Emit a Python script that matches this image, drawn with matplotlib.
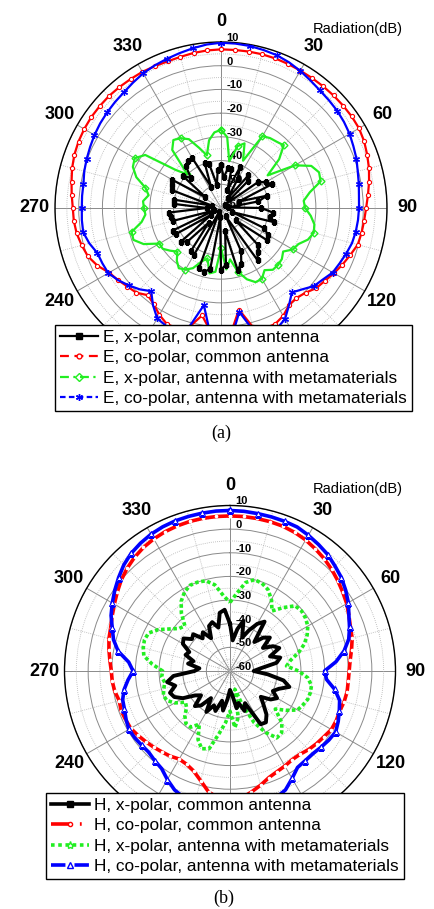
import numpy as np
import matplotlib
matplotlib.use('Agg')
import matplotlib.pyplot as plt
from matplotlib.lines import Line2D
from matplotlib.transforms import offset_copy

plt.rcParams['font.family'] = ['Liberation Sans', 'DejaVu Sans']

# ---------------- data (angle in degrees, values in dB) ----------------
angles_deg = np.arange(0, 360, 5)

# (a) E-plane
e_x_common = [-42, -47, -43, -43, -52, -41, -46, -55, -42, -44, -58, -41,
              -38, -36.5, -52, -40, -44, -57, -43, -38, -39, -37, -55, -40,
              -37, -36.5, -52, -38, -36, -33, -56, -40, -35, -33, -50, -36,
              -34, -56, -34, -32, -33, -58, -37, -38, -52, -40, -38, -55,
              -38, -37.5, -57, -39, -38.5, -38, -54, -40, -40, -56, -38, -37,
              -36, -52, -39, -42, -37, -36, -35.5, -50, -40, -41, -50, -44]
e_co_common = [6.9, 6.9, 7.0, 7.1, 7.1, 7.0, 6.9, 6.9, 7.0, 7.1, 7.2, 7.3,
               7.2, 6.6, 5.6, 4.6, 3.4, 2.2, 1.2, 0.6, 0.2, -0.3, -2.0, -3.5,
               -5.0, -6.5, -7.5, -9.5, -10.5, -10.0, -7.5, -6, -6, -8, -16.5, -8,
               -5, -8, -14, -8, -6, -6, -8, -10.5, -12, -9.5, -8.5, -7,
               -5.5, -2.5, -0.3, 0.8, 1.8, 2.3, 2.5, 3.2, 4, 5, 5.8, 6.3,
               6.6, 6.8, 6.8, 6.8, 6.6, 6.4, 6.3, 6.0, 5.8, 6.0, 6.4, 6.7]
e_x_meta = [-27, -30, -40, -33, -31, -38, -25, -24, -23.5, -22.6, -28, -36,
            -24, -18, -16, -16.5, -22, -25, -24.5, -22, -20, -19.5, -21, -24,
            -25, -28, -26.5, -26, -26, -28, -25.5, -25.5, -28, -32, -38, -34,
            -43, -33, -32, -38, -36, -32, -30, -29, -31, -34, -32, -30,
            -30, -24, -20.7, -21, -26, -28, -27.5, -27, -29, -27, -22, -19,
            -18, -21, -35, -40, -28, -25, -26, -28, -33, -37, -31, -28]
e_co_meta = [9.7, 9.6, 9.4, 9.0, 8.6, 7.8, 6.8, 5.7, 4.8, 4.3, 3.9, 3.3,
             2.6, 1.6, 0.8, -0.3, -1.0, -1.6, -1.8, -2.0, -2.3, -2.8, -3.8, -4.8,
             -5.6, -7.5, -8.8, -11.5, -13.5, -10, -6, -4, -4, -6, -15.5, -6,
             -4, -7, -18.4, -8, -5, -5.2, -6.2, -10, -14.2, -11.5, -9.2, -7,
             -5.1, -4.8, -4.5, -2.5, -1.0, -1.1, -1.3, -1.2, -1.1, -0.3, 0.3, 0.9,
             1.6, 2.2, 2.7, 3.2, 3.7, 4.6, 5.6, 6.3, 6.9, 7.6, 8.4, 9.2]

# (b) H-plane
h_x_common = [-40, -47, -42, -38, -45, -41, -37, -34.5, -44, -40, -38, -43,
              -39, -37, -42, -38, -40, -47, -50, -44, -37, -34, -38, -40,
              -37, -39, -43, -40, -36, -33.5, -34, -45, -42, -46, -44, -50,
              -52, -48, -43, -47, -42, -44, -40, -46, -41, -39, -44, -42,
              -37, -34, -33, -36, -33, -36, -45, -47, -42, -44, -40, -41,
              -37, -36, -39, -38, -42, -40, -44, -39, -38, -41, -35, -34]
h_co_common = [5.6, 5.6, 5.5, 5.4, 5.2, 4.7, 4.0, 3.0, 2.0, 0.8, -0.5, -1.8,
               -3, -4.5, -5.8, -6.5, -7.8, -9, -9.6, -9.8, -9.7, -10, -10.6, -10.4,
               -10.5, -11.5, -12.2, -13, -14, -14.2, -13.6, -13, -12, -10, -8, -6,
               -5, -6, -8, -12, -15, -16.5, -17, -16, -15.3, -14.4, -13.5, -12.5,
               -11.5, -11.3, -11, -11.5, -10.5, -10, -9.8, -9, -8, -7, -6.3, -5,
               -3.5, -1.8, 0, 1.5, 2.8, 3.8, 4.5, 5.0, 5.3, 5.5, 5.6, 5.6]
h_x_meta = [-31, -27, -22, -20, -20.5, -22, -25, -29, -25, -21, -20.5, -21,
            -22, -24, -26.5, -30, -34, -36, -31, -27, -25, -24.8, -25, -26,
            -27, -31, -35, -29, -26, -25.5, -30, -36, -45, -52, -40, -36,
            -43, -38, -33, -26, -25, -28, -34, -31, -31, -33, -36, -37,
            -33, -30.5, -30, -31, -32, -31, -31.5, -27, -23, -22, -21.5, -22,
            -25, -29, -32, -33, -28, -24, -21.5, -20, -20, -20.5, -23, -28]
h_co_meta = [7.9, 7.8, 7.6, 7.5, 7.4, 7.2, 6.3, 5.3, 4.3, 2.8, 1.5, -0.3,
             -2.2, -4.5, -6.2, -8, -11, -15, -20, -19, -15, -12, -10.8, -9.5,
             -8.4, -9, -9.8, -10.5, -10.5, -10.2, -7.5, -4.5, -3, -2, -1.5, -1,
             -1, -1, -1.5, -2, -3, -4.5, -7, -9.6, -10.5, -11.4, -11.2, -10.8,
             -10.6, -11.5, -12.5, -13, -14.5, -16.7, -19, -17, -12, -9, -7, -4.5,
             -2.5, -0.5, 1.5, 3.5, 5, 6, 6.8, 7.3, 7.6, 7.7, 7.8, 7.9]

# 150, 180 and 210 sit behind the legend in the reference
theta_labels = ['0', '30', '60', '90', '120', '', '', '', '240', '270', '300', '330']
r_labels = [10, 0, -10, -20, -30, -40, -50, -60]

labels_a = ['E, x-polar, common antenna', 'E, co-polar, common antenna',
            'E, x-polar, antenna with metamaterials', 'E, co-polar, antenna with metamaterials']
labels_b = ['H, x-polar, common antenna', 'H, co-polar, common antenna',
            'H, x-polar, antenna with metamaterials', 'H, co-polar, antenna with metamaterials']

GREEN = '#22ee22'
W, H = 435, 909

fig = plt.figure(figsize=(W / 100, H / 100), dpi=100)


def closed(vals):
    th = np.deg2rad(np.append(angles_deg, 360))
    return th, np.append(vals, vals[0])


def setup(ax):
    ax.set_theta_zero_location('N')
    ax.set_theta_direction(-1)
    ax.set_ylim(-60, 10)
    ax.set_xticks(np.deg2rad(np.arange(0, 360, 30)))
    ax.set_xticks(np.deg2rad(np.arange(15, 360, 30)), minor=True)
    ax.set_xticklabels(theta_labels, fontsize=13, fontweight='bold')
    ax.set_yticks(r_labels)
    ax.set_yticks(np.arange(-55, 10, 10), minor=True)
    ax.set_yticklabels([])
    ax.tick_params(axis='y', length=0)
    ax.tick_params(axis='x', which='major', direction='inout', length=7, width=0.9,
                   pad=4, colors='black')
    ax.tick_params(axis='x', which='minor', direction='in', length=3.5, width=0.7)
    ax.grid(which='major', color='#8a8a8a', lw=0.7, ls='-')
    ax.grid(which='minor', color='#b0b0b0', lw=0.6, ls=(0, (1, 1.5)))
    ax.spines['polar'].set_color('black')
    ax.spines['polar'].set_linewidth(1.0)
    tr = offset_copy(ax.transData, fig=fig, x=4.0, y=3.0, units='points')
    for v in r_labels:
        ax.text(0, v, str(v), transform=tr, ha='left', va='center',
                fontsize=8, fontweight='bold', zorder=2.6)


leg_kw = dict(loc='upper left', frameon=True, fancybox=False, edgecolor='black', framealpha=1,
              borderpad=0.3, labelspacing=0.3, handlelength=2.2, handletextpad=0.3,
              borderaxespad=0, fontsize=12.4)

# ---------------- (a) ----------------
ax1 = fig.add_axes([(221 - 166) / W, (H - 208 - 166) / H, 332 / W, 332 / H], projection='polar')
setup(ax1)
th, v = closed(e_co_common)
ax1.plot(th, v, color='red', lw=1.6, marker='o', ms=3, mfc='white', mec='red', mew=0.8, zorder=3)
th, v = closed(e_co_meta)
ax1.plot(th, v, color='blue', lw=1.6, marker=(6, 2, 0), ms=5, markevery=2, mew=0.9, zorder=3.1)
th, v = closed(e_x_meta)
ax1.plot(th, v, color=GREEN, lw=1.6, marker='D', ms=3.5, mfc='none', mec=GREEN, markevery=3, zorder=3)
th, v = closed(e_x_common)
ax1.plot(th, v, color='black', lw=1.6, marker='s', ms=3, zorder=3.2)

hand_a = [Line2D([], [], color='black', lw=1.6, marker='s', ms=4),
          Line2D([], [], color='red', lw=1.6, ls=(0, (4, 2.5)), marker='o', ms=3.5, mfc='white'),
          Line2D([], [], color=GREEN, lw=1.6, ls=(0, (4, 2, 1, 2)), marker='D', ms=4, mfc='none'),
          Line2D([], [], color='blue', lw=1.6, ls=(0, (2.5, 1.5)), marker=(6, 2, 0), ms=5)]
leg_a = fig.legend(hand_a, labels_a, bbox_to_anchor=(55 / W, 1 - 325 / H), **leg_kw)
leg_a.get_frame().set_linewidth(1.0)
fig.text(358 / W, 1 - 29 / H, 'Radiation(dB)', ha='center', va='center', fontsize=10.5)
fig.text(221 / W, 1 - 433 / H, '(a)', ha='center', va='center', fontsize=13,
         family=['Liberation Serif', 'DejaVu Serif'])

# ---------------- (b) ----------------
ax2 = fig.add_axes([(230 - 165.5) / W, (H - 671 - 165.5) / H, 331 / W, 331 / H], projection='polar')
setup(ax2)
th, v = closed(h_co_common)
ax2.plot(th, v, color='red', lw=2.6, marker='o', ms=1.6, mfc='white', mec='white', zorder=3)
th, v = closed(h_co_meta)
ax2.plot(th, v, color='blue', lw=2.6, marker='^', ms=4, mfc='white', mec='blue', mew=0.8,
         markevery=2, zorder=3.1)
th, v = closed(h_x_meta)
ax2.plot(th, v, color=GREEN, lw=2.6, ls=(0, (1, 0.7)), zorder=3)
th, v = closed(h_x_common)
ax2.plot(th, v, color='black', lw=2.8, zorder=3.2)

hand_b = [Line2D([], [], color='black', lw=2.6, marker='s', ms=4),
          Line2D([], [], color='red', lw=2.6, ls=(0, (5, 3, 0.5, 3)), marker='o', ms=3, mfc='white'),
          Line2D([], [], color=GREEN, lw=2.6, ls=(0, (1, 1)), marker='*', ms=6, mfc='white'),
          Line2D([], [], color='blue', lw=2.6, ls=(0, (4, 2.5)), marker='^', ms=4.5, mfc='white')]
leg_b = fig.legend(hand_b, labels_b, bbox_to_anchor=(46 / W, 1 - 793 / H), **leg_kw)
leg_b.get_frame().set_linewidth(1.0)
fig.text(358 / W, 1 - 489 / H, 'Radiation(dB)', ha='center', va='center', fontsize=10.5)
fig.text(224 / W, 1 - 898 / H, '(b)', ha='center', va='center', fontsize=13,
         family=['Liberation Serif', 'DejaVu Serif'])

fig.savefig('out.png', dpi=100)
